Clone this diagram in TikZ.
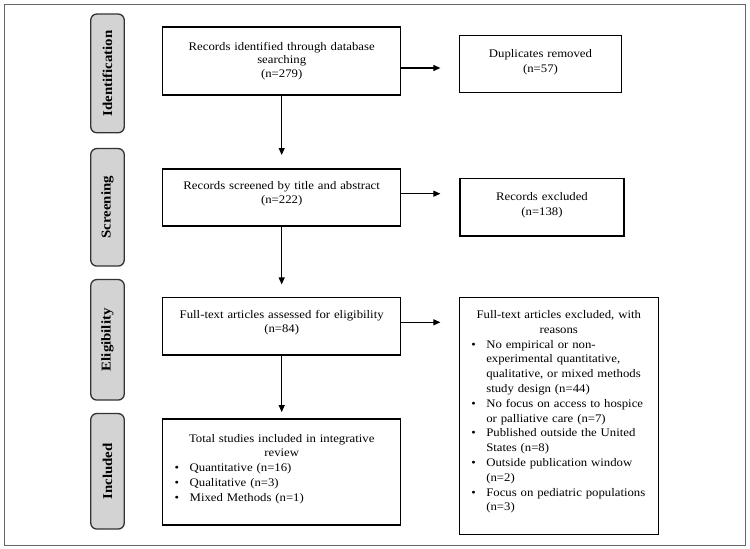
\documentclass[tikz,border=0pt]{standalone}
\usepackage{fontspec}
\setmainfont{Liberation Serif}[FakeStretch=1.1]
\usetikzlibrary{arrows.meta}
\definecolor{sidefill}{HTML}{D3D3D3}
\definecolor{sideline}{HTML}{333333}
\definecolor{frameline}{HTML}{666666}
\newcommand{\bitem}[1]{\par\noindent\hangindent=21pt\hangafter=1\hspace*{6pt}\makebox[15pt][l]{\textbullet}#1\par}
\newcommand{\liftby}[1]{\par\vspace*{#1}\kern0pt}
\tikzset{
  flowbox/.style={draw=black, line width=1.2pt, inner xsep=6pt, inner ysep=4pt, align=center,
    font=\fontsize{11.6}{14.5}\selectfont},
  listbox/.style={draw=black, line width=1.2pt, inner xsep=6pt, inner ysep=4pt,
    font=\fontsize{11.6}{14.8}\selectfont},
  stagebox/.style={draw=sideline, fill=sidefill, line width=1.3pt, rounded corners=6pt,
    inner sep=0pt, rotate=90,
    font=\fontsize{13.5}{15}\selectfont\bfseries},
  arr/.style={line width=1.1pt, -{Triangle[length=7pt,width=6pt]}}
}
\begin{document}
\begin{tikzpicture}[x=1pt, y=-1pt]
\useasboundingbox (0,0) rectangle (750,549);
\draw[frameline, line width=1pt] (4,4) rectangle (745,545);

% stage labels
\node[stagebox, minimum width=118.7pt, minimum height=33.5pt] (sid) at (107.5,73.4) {Identification};
\node[stagebox, minimum width=117.5pt, minimum height=33.5pt] (sscr) at (107.5,207.3) {Screening};
\node[stagebox, minimum width=120.5pt, minimum height=33.5pt] (seli) at (107.5,339.8) {Eligibility};
\node[stagebox, minimum width=115.5pt, minimum height=33.5pt] (sinc) at (107.5,471.3) {Included};

% main boxes
\node[flowbox, text width=226pt, minimum height=68pt, font=\fontsize{11.6}{13.4}\selectfont] (b1) at (281.7,61)
  {Records identified through database\\searching\\(n=279)};
\node[flowbox, text width=150.4pt, minimum height=57pt] (dup) at (540.5,64.2)
  {Duplicates removed\\(n=57)\liftby{4pt}};
\node[flowbox, text width=226pt, minimum height=57pt] (b2) at (281.7,197.5)
  {Records screened by title and abstract\\(n=222)\liftby{8pt}};
\node[flowbox, text width=152pt, minimum height=57.5pt] (rex) at (542,207.3)
  {Records excluded\\(n=138)\liftby{4pt}};
\node[flowbox, text width=226pt, minimum height=57.3pt] (b3) at (281.7,326.4)
  {Full-text articles assessed for eligibility\\(n=84)\liftby{8pt}};
\node[listbox, text width=226pt, minimum height=106pt] (b4) at (281.7,472) {%
  {\centering Total studies included in integrative\\review\par}%
  \raggedright
  \bitem{Quantitative (n=16)}%
  \bitem{Qualitative (n=3)}%
  \bitem{Mixed Methods (n=1)}%
  \liftby{6pt}};
\node[listbox, text width=187pt, minimum height=236.6pt] (excl) at (558.8,416) {%
  {\centering Full-text articles excluded, with\\reasons\par}%
  \raggedright
  \bitem{No empirical or non-\newline experimental quantitative,\newline qualitative, or mixed methods\newline study design (n=44)}%
  \bitem{No focus on access to hospice\newline or palliative care (n=7)}%
  \bitem{Published outside the United\newline States (n=8)}%
  \bitem{Outside publication window\newline (n=2)}%
  \bitem{Focus on pediatric populations\newline (n=3)}%
  \liftby{8pt}};

% connectors
\draw[arr, shorten >=13.4pt] (b1.south) -- (b2.north);
\draw[arr, shorten >=12.7pt] (b2.south) -- (b3.north);
\draw[arr, shorten >=6.3pt] (b3.south) -- (b4.north);
\draw[arr, shorten >=18.3pt] ([yshift=-7pt]b1.east) -- ([yshift=-7pt]b1.east -| dup.west);
\draw[arr, shorten >=19pt] ([yshift=3.8pt]b2.east) -- ([yshift=3.8pt]b2.east -| rex.west);
\draw[arr, shorten >=18.3pt] ([yshift=4.1pt]b3.east) -- ([yshift=4.1pt]b3.east -| excl.west);
\end{tikzpicture}
\end{document}
